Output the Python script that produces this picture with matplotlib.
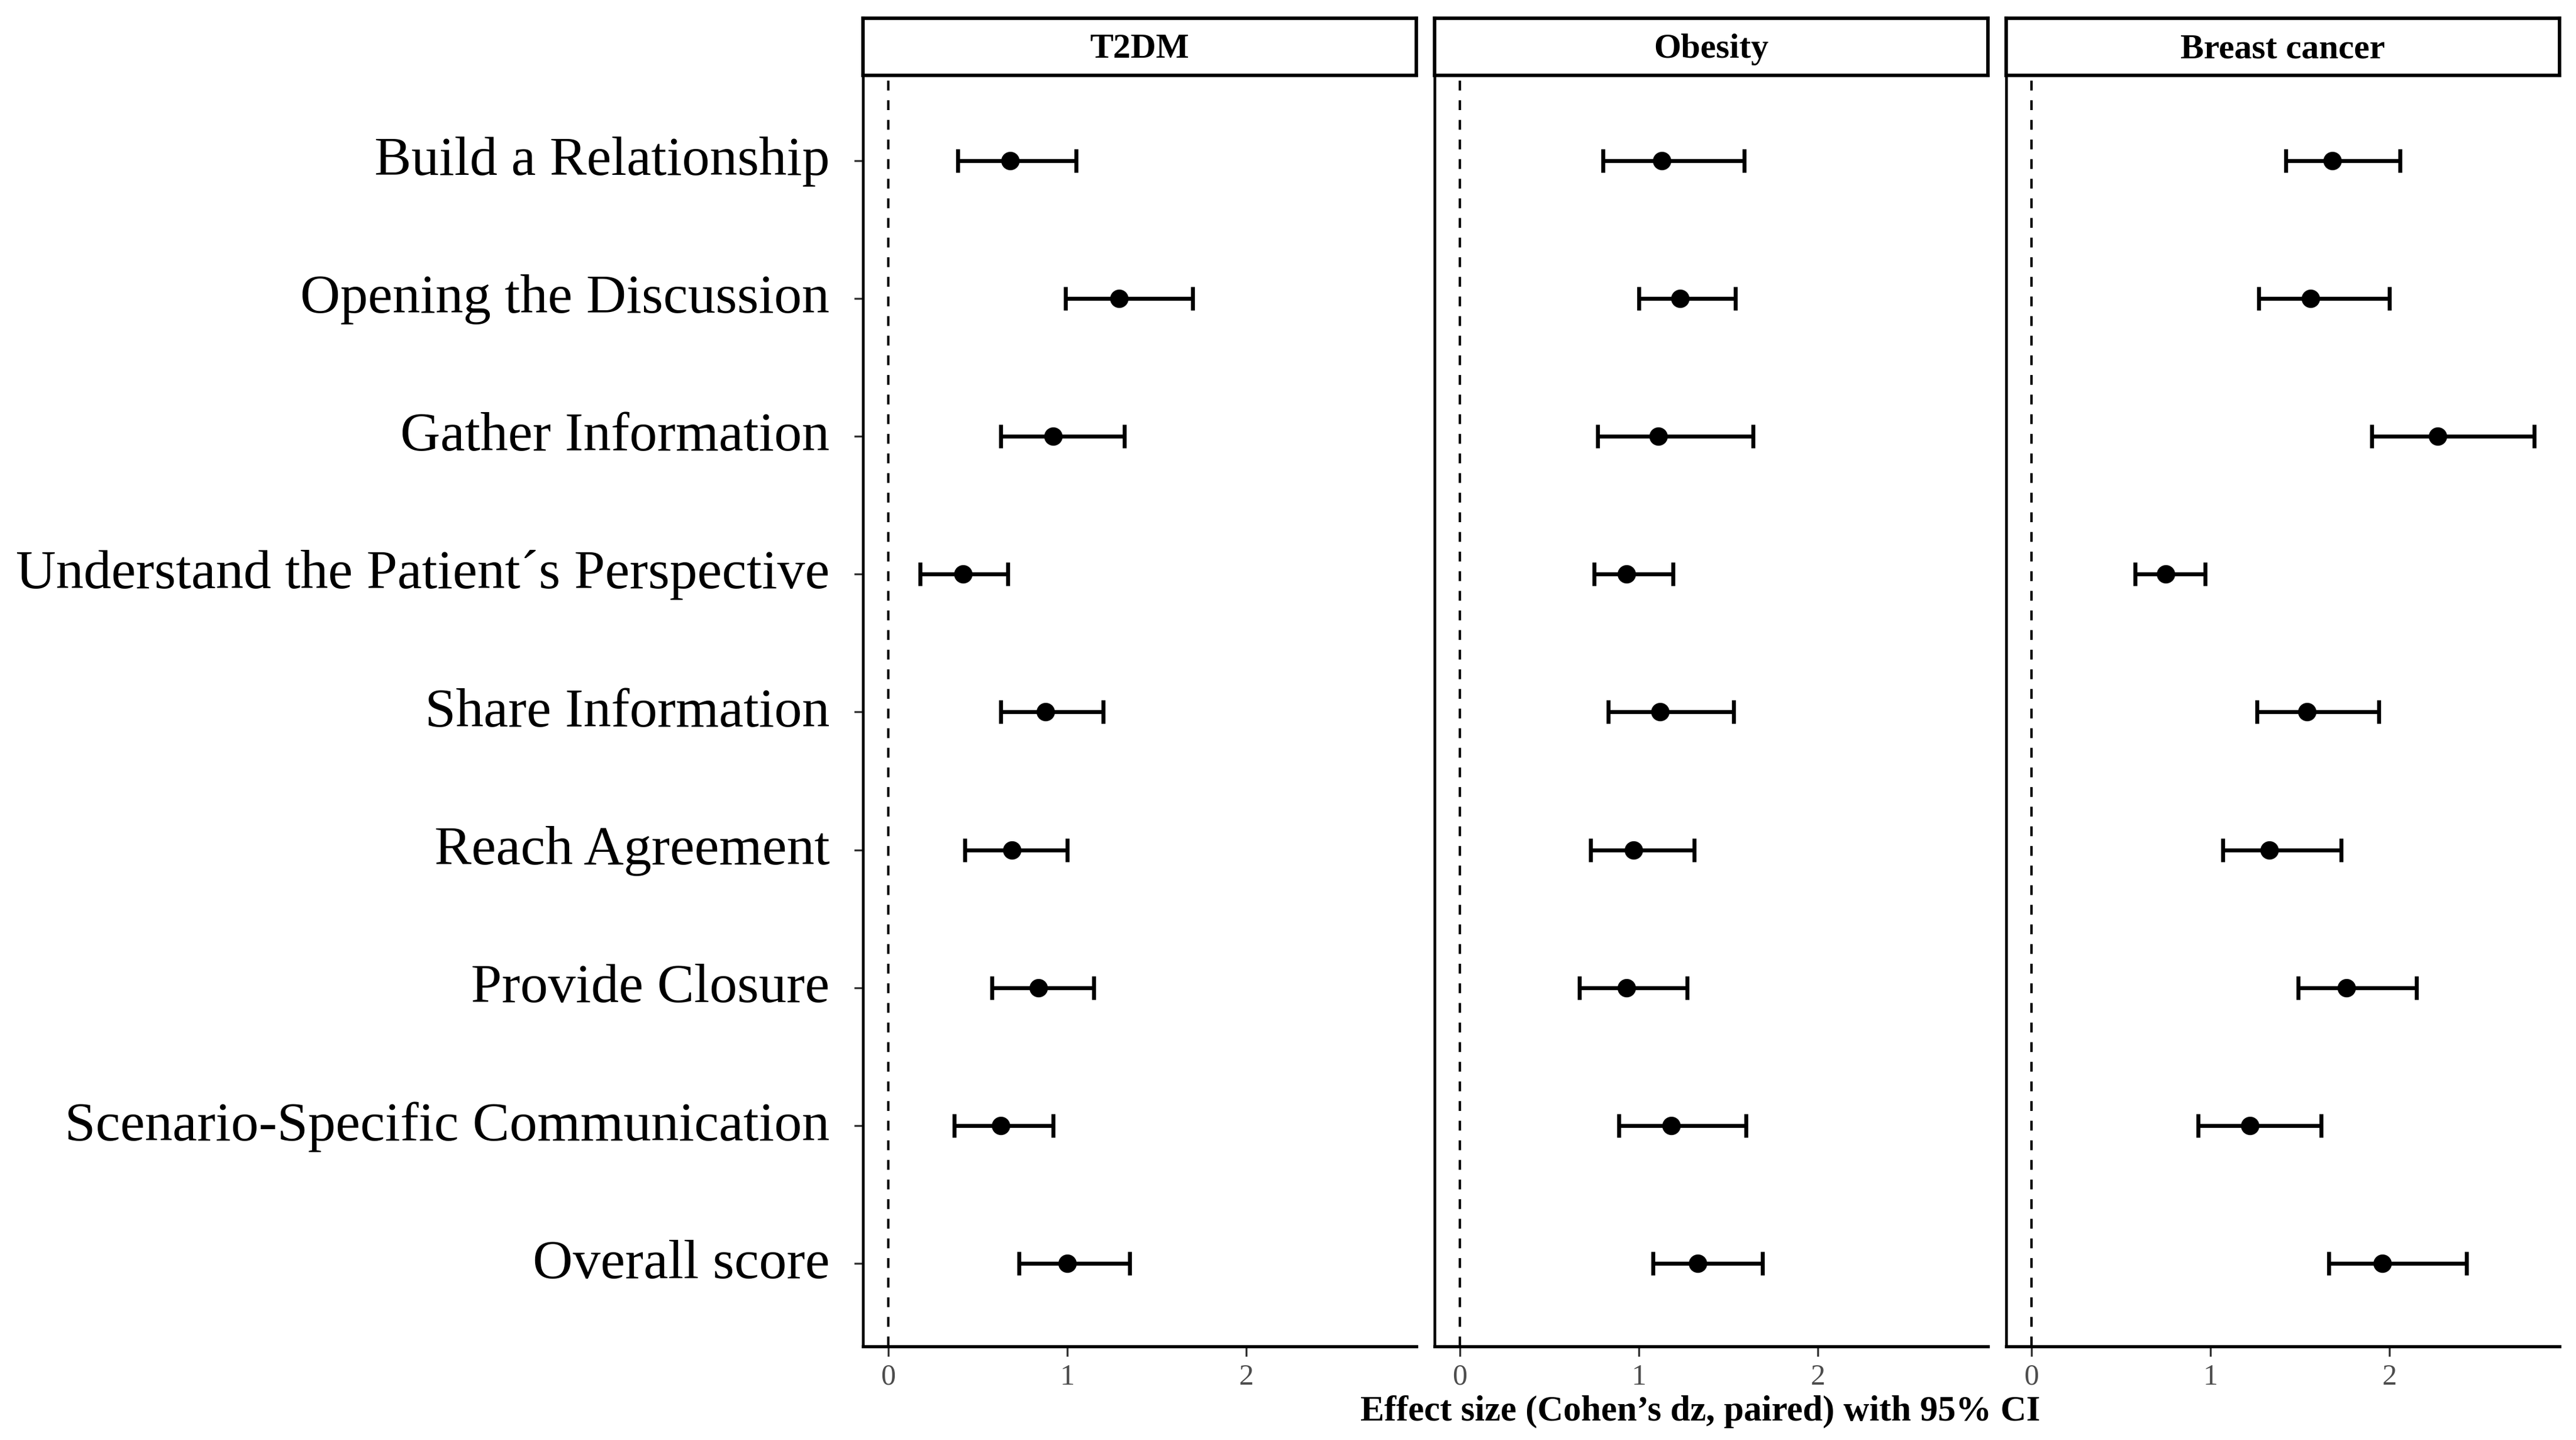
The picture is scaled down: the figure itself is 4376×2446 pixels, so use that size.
"""
Forest-style facet plot: effect sizes (Cohen's dz, paired) with 95% CI
for each communication domain, split by scenario.
"""

import numpy as np
import matplotlib
matplotlib.use("Agg")
import matplotlib.pyplot as plt
from matplotlib.transforms import ScaledTranslation

# ── Data ──────────────────────────────────────────────────────────────────────
DOMAINS = [
    "Build a Relationship",
    "Opening the Discussion",
    "Gather Information",
    "Understand the Patient\u00b4s Perspective",
    "Share Information",
    "Reach Agreement",
    "Provide Closure",
    "Scenario-Specific Communication",
    "Overall score",
]

SCENARIOS = ["T2DM", "Obesity", "Breast cancer"]

t2dm_est = [0.68, 1.29, 0.92, 0.42, 0.88, 0.69, 0.84, 0.63, 1.00]
t2dm_lo  = [0.39, 0.99, 0.63, 0.18, 0.63, 0.43, 0.58, 0.37, 0.73]
t2dm_hi  = [1.05, 1.70, 1.32, 0.67, 1.20, 1.00, 1.15, 0.92, 1.35]

obes_est = [1.13, 1.23, 1.11, 0.93, 1.12, 0.97, 0.93, 1.18, 1.33]
obes_lo  = [0.80, 1.00, 0.77, 0.75, 0.83, 0.73, 0.67, 0.89, 1.08]
obes_hi  = [1.59, 1.54, 1.64, 1.19, 1.53, 1.31, 1.27, 1.60, 1.69]

brca_est = [1.68, 1.56, 2.27, 0.75, 1.54, 1.33, 1.76, 1.22, 1.96]
brca_lo  = [1.42, 1.27, 1.90, 0.58, 1.26, 1.07, 1.49, 0.93, 1.66]
brca_hi  = [2.06, 2.00, 2.81, 0.97, 1.94, 1.73, 2.15, 1.62, 2.43]

XTICKS = [0, 1, 2]
XLABEL = "Effect size (Cohen\u2019s dz, paired) with 95% CI"

panels = [
    (t2dm_est, t2dm_lo, t2dm_hi),
    (obes_est, obes_lo, obes_hi),
    (brca_est, brca_lo, brca_hi),
]

# ── Style ─────────────────────────────────────────────────────────────────────
plt.rcParams["font.family"] = ["Liberation Serif", "DejaVu Serif"]

W, H, DPI = 4376, 2446, 300
fig = plt.figure(figsize=(W / DPI, H / DPI), dpi=DPI)

# shared x range (ggplot-like 5% expansion, 0 included by the reference line)
all_lo = min(0, min(min(p[1]) for p in panels))
all_hi = max(max(p[2]) for p in panels)
pad = 0.05 * (all_hi - all_lo)
XLIM = (all_lo - pad, all_hi + pad)

n = len(DOMAINS)
ypos = np.arange(n)[::-1]           # first domain on top

# panel geometry in pixels
PX_LEFT, PX_W, PX_GAP = 1466, 940, 31
PX_TOP, PX_BOT = 132, 2287
STRIP_TOP, STRIP_BOT = 31, 128

ax_b = (H - PX_BOT) / H
ax_h = (PX_BOT - PX_TOP) / H
st_b = (H - STRIP_BOT) / H
st_h = (STRIP_BOT - STRIP_TOP) / H

for i, (name, (est, lo, hi)) in enumerate(zip(SCENARIOS, panels)):
    left = (PX_LEFT + i * (PX_W + PX_GAP)) / W
    ax = fig.add_axes([left, ax_b, PX_W / W, ax_h])

    est = np.array(est)
    lo = np.array(lo)
    hi = np.array(hi)

    ax.axvline(0, color="black", lw=1.0, ls=(0, (4, 4)), zorder=1)
    ax.errorbar(
        est, ypos, xerr=[est - lo, hi - est],
        fmt="o", color="black", ms=6.5, elinewidth=1.6,
        capsize=4.8, capthick=1.6, zorder=3,
    )

    ax.set_xlim(*XLIM)
    ax.set_ylim(-0.6, n - 0.4)
    ax.set_xticks(XTICKS)
    ax.set_xticklabels([str(t) for t in XTICKS])
    ax.tick_params(axis="x", length=4, width=0.8, color="#333333",
                   labelsize=12, labelcolor="#4D4D4D", pad=3)

    for s in ("top", "right"):
        ax.spines[s].set_visible(False)
    ax.spines["left"].set_linewidth(1.1)
    ax.spines["bottom"].set_linewidth(1.3)

    if i == 0:
        ax.set_yticks(ypos)
        ax.set_yticklabels(DOMAINS, va="center_baseline")
        ax.tick_params(axis="y", length=3.6, width=0.8, color="#333333",
                       labelsize=22.6, labelcolor="black", pad=10)
        # nudge labels up slightly to sit on the row centre
        nudge = ScaledTranslation(0, 2 / 72, fig.dpi_scale_trans)
        for lab in ax.get_yticklabels():
            lab.set_transform(lab.get_transform() + nudge)
    else:
        ax.set_yticks([])

    # facet strip
    sax = fig.add_axes([left, st_b, PX_W / W, st_h])
    sax.set_xticks([])
    sax.set_yticks([])
    for s in sax.spines.values():
        s.set_linewidth(1.4)
    sax.text(0.5, 0.45, name, ha="center", va="center",
             fontsize=14.3, fontweight="bold", transform=sax.transAxes)

# shared x-axis title, centred over the panel block
x_mid = 2888 / W
fig.text(x_mid, (H - 2398) / H, XLABEL, ha="center", va="center",
         fontsize=14.6, fontweight="bold")

fig.savefig("out.png", dpi=DPI, facecolor="white")
